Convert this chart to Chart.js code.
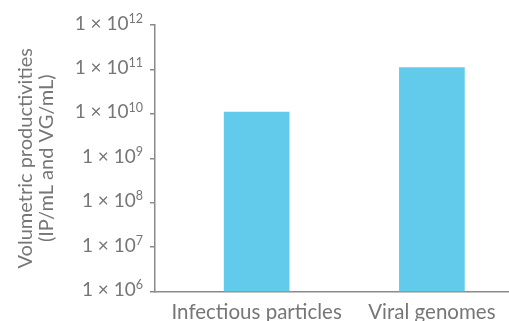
<!DOCTYPE html>
<html>
<head>
<meta charset="utf-8">
<script src="https://cdn.jsdelivr.net/npm/chart.js@4/dist/chart.umd.min.js"></script>
<style>
  html, body { margin: 0; padding: 0; background: #ffffff; }
  #wrap { width: 509px; height: 321px; position: relative; }
</style>
</head>
<body>
<div id="wrap"><canvas id="chart"></canvas></div>
<script>
// Volumetric productivities per product type (log scale)
const categories = ['Infectious particles', 'Viral genomes'];
const productivity = [1.1e10, 1.1e11];
const exponents = [6, 7, 8, 9, 10, 11, 12];
const axisTitle = ['Volumetric productivities', '(IP/mL and VG/mL)'];

const FONT = 'Lato, "Open Sans", sans-serif';
const TEXT = '#767676';
const AXIS = '#8a8a8a';
const BAR = '#62cbec';

// Tick labels in the form "1 × 10ⁿ" with a raised exponent, plus the rotated title
const labelPlugin = {
  id: 'powerLabels',
  afterDraw(chart) {
    const ctx = chart.ctx;
    const y = chart.scales.y;
    ctx.save();
    ctx.fillStyle = TEXT;
    ctx.textBaseline = 'alphabetic';
    exponents.forEach(e => {
      const py = y.getPixelForValue(Math.pow(10, e));
      const exp = String(e);
      ctx.font = '12.5px ' + FONT;
      const expW = ctx.measureText(exp).width;
      const right = y.right - 12;
      ctx.textAlign = 'left';
      ctx.fillText(exp, right - expW, py - 2.3);
      ctx.font = '19px ' + FONT;
      ctx.textAlign = 'right';
      ctx.fillText('1 \u00d7 10', right - expW, py + 4.5);
    });
    ctx.font = '20px ' + FONT;
    ctx.textAlign = 'center';
    ctx.translate(0, (chart.chartArea.top + chart.chartArea.bottom) / 2);
    ctx.rotate(-Math.PI / 2);
    ctx.fillText(axisTitle[0], 0, 32);
    ctx.fillText(axisTitle[1], 0, 53);
    ctx.restore();
  }
};

new Chart(document.getElementById('chart'), {
  type: 'bar',
  data: {
    datasets: [{
      data: productivity.map((v, i) => ({ x: i + 1, y: v })),
      backgroundColor: BAR,
      barThickness: 65
    }]
  },
  options: {
    responsive: true,
    maintainAspectRatio: false,
    animation: false,
    layout: { padding: { top: 25, right: 0, left: 0, bottom: 0 } },
    plugins: { legend: { display: false }, tooltip: { enabled: false } },
    scales: {
      x: {
        type: 'linear',
        offset: false,
        bounds: 'data',
        min: 0.42,
        max: 2.44,
        afterBuildTicks(scale) { scale.ticks = categories.map((c, i) => ({ value: i + 1 })); },
        afterFit(scale) { scale.height = 29.5; },
        grid: { display: false, drawTicks: false, offset: false },
        border: { display: true, color: AXIS, width: 1.5 },
        ticks: {
          color: TEXT,
          font: { family: FONT, size: 20.5 },
          padding: 9,
          maxRotation: 0,
          autoSkip: false,
          callback: v => categories[v - 1] || ''
        }
      },
      y: {
        type: 'logarithmic',
        min: Math.pow(10, exponents[0]),
        max: Math.pow(10, exponents[exponents.length - 1]),
        afterBuildTicks(scale) { scale.ticks = exponents.map(e => ({ value: Math.pow(10, e) })); },
        afterFit(scale) { scale.width = 155; },
        grid: { drawOnChartArea: false, drawTicks: true, tickLength: 5, color: AXIS, lineWidth: 1.5 },
        border: { display: true, color: AXIS, width: 1.5 },
        ticks: { display: false }
      }
    }
  },
  plugins: [labelPlugin]
});
</script>
</body>
</html>
